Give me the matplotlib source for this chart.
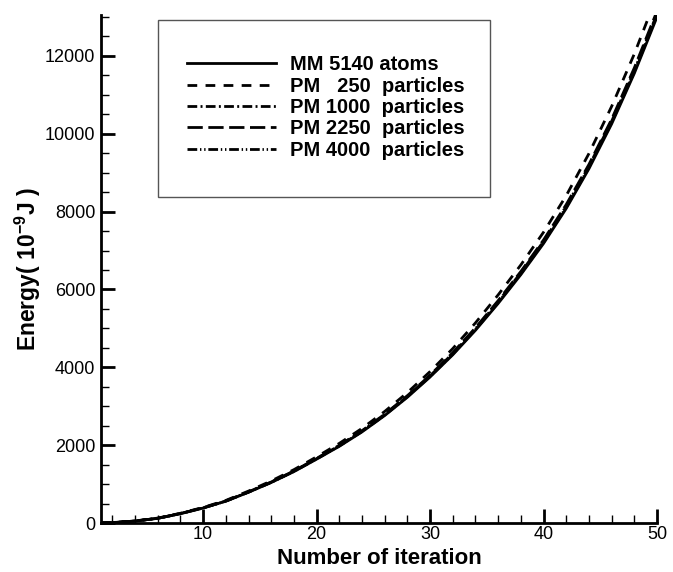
import matplotlib
matplotlib.use("Agg")
import matplotlib.pyplot as plt
from matplotlib.patches import Rectangle
from matplotlib.ticker import MultipleLocator

plt.rcParams['font.family'] = ['Liberation Sans', 'DejaVu Sans']
plt.rcParams['mathtext.fontset'] = 'custom'
plt.rcParams['mathtext.rm'] = 'Liberation Sans'
plt.rcParams['mathtext.bf'] = 'Liberation Sans:bold'

# Energy history for the molecular model and the particle models
iteration = [1, 2, 4, 6, 8, 10, 12, 14, 16, 18, 20, 22, 24, 26, 28, 30,
             32, 34, 36, 38, 40, 42, 44, 46, 48, 50]
mm_5140 = [0, 10, 50, 120, 240, 385, 560, 790, 1040, 1320, 1640, 1970, 2340,
           2760, 3230, 3750, 4320, 4950, 5640, 6380, 7180, 8080, 9100, 10250,
           11550, 13000]
pm_250 = [0, 11, 53, 126, 250, 400, 580, 820, 1080, 1370, 1700, 2045, 2430,
          2865, 3350, 3890, 4480, 5140, 5860, 6630, 7470, 8410, 9490, 10700,
          12050, 13550]
pm_1000 = [0, 10, 51, 121, 242, 388, 565, 797, 1048, 1331, 1654, 1987, 2360,
           2783, 3257, 3780, 4355, 4990, 5685, 6430, 7235, 8140, 9165, 10320,
           11625, 13080]
pm_2250 = [0, 10, 51, 122, 244, 390, 567, 800, 1053, 1337, 1660, 1995, 2370,
           2795, 3270, 3797, 4375, 5013, 5712, 6461, 7270, 8180, 9210, 10370,
           11690, 13150]
pm_4000 = [0, 10, 50, 120, 241, 386, 562, 793, 1044, 1325, 1646, 1978, 2350,
           2771, 3244, 3766, 4338, 4970, 5662, 6405, 7208, 8111, 9135, 10290,
           11595, 13050]

labels = ["MM 5140 atoms", "PM   250  particles", "PM 1000  particles",
          "PM 2250  particles", "PM 4000  particles"]

fig = plt.figure(figsize=(6.73, 5.72), dpi=100)
ax = fig.add_axes([101 / 673, 49 / 572, 556 / 673, 508 / 572])

lw = 2.0
ax.plot(iteration, mm_5140, color='black', lw=lw, linestyle='-', label=labels[0])
ax.plot(iteration, pm_250, color='black', lw=lw, linestyle=(0, (3.5, 3)), label=labels[1])
ax.plot(iteration, pm_1000, color='black', lw=lw, linestyle=(0, (3.5, 1.2, 0.7, 1.2)), label=labels[2])
ax.plot(iteration, pm_2250, color='black', lw=lw, linestyle=(0, (5.5, 2)), label=labels[3])
ax.plot(iteration, pm_4000, color='black', lw=lw,
        linestyle=(0, (3.5, 1, 0.5, 1, 0.5, 1)), label=labels[4])

ax.set_xlim(1, 50)
ax.set_ylim(0, 13050)

ax.spines['top'].set_visible(False)
ax.spines['right'].set_visible(False)
for s in ('left', 'bottom'):
    ax.spines[s].set_linewidth(2)

ax.xaxis.set_major_locator(MultipleLocator(10))
ax.xaxis.set_minor_locator(MultipleLocator(2))
ax.yaxis.set_major_locator(MultipleLocator(2000))
ax.yaxis.set_minor_locator(MultipleLocator(500))
ax.tick_params(which='major', direction='in', length=10, width=2, labelsize=13, pad=4)
ax.tick_params(which='minor', direction='in', length=6, width=1)
ax.tick_params(axis='x', which='major', pad=2)

ax.set_xlabel("Number of iteration", fontsize=16, fontweight='bold')
ax.xaxis.set_label_coords(0.5, -0.05)
ax.set_ylabel(r"Energy( 10$^{\mathbf{-9}}$J )", fontsize=16.5, fontweight='bold')
ax.yaxis.set_label_coords(-0.105, 0.5)

# legend box drawn as a plain rectangle, entries placed inside it
ax.add_patch(Rectangle((0.1025, 0.6417), 0.597, 0.348, transform=ax.transAxes,
                       facecolor='white', edgecolor='#555555', lw=1.0, zorder=4))
leg = ax.legend(loc='upper left', bbox_to_anchor=(0.1547, 0.921), frameon=False,
                prop={'family': 'Liberation Sans', 'weight': 'bold', 'size': 14.5},
                handlelength=4.4, handletextpad=0.7, borderpad=0,
                labelspacing=0.12, borderaxespad=0)
leg.set_zorder(5)

fig.savefig("out.png", dpi=100)
